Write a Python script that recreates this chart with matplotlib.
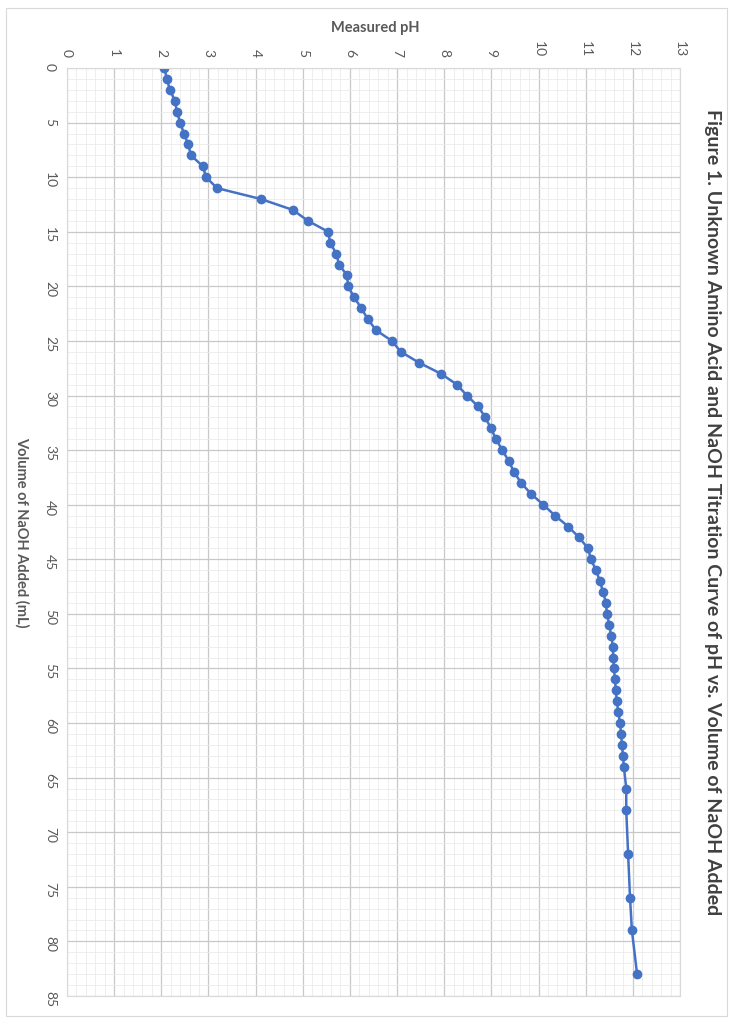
import matplotlib
matplotlib.use("Agg")
import matplotlib.pyplot as plt
from matplotlib.ticker import MultipleLocator

plt.rcParams['font.family'] = ['Lato', 'DejaVu Sans']

volume = list(range(0, 65)) + [66, 68, 72, 76, 79, 83]
ph = [2.06, 2.12, 2.18, 2.29, 2.33, 2.40, 2.48, 2.57, 2.63, 2.88, 2.95, 3.18, 4.11, 4.79, 5.11,
      5.54, 5.58, 5.71, 5.77, 5.94, 5.96, 6.09, 6.24, 6.38, 6.55, 6.89, 7.08, 7.47, 7.93, 8.27,
      8.48, 8.72, 8.87, 8.99, 9.10, 9.23, 9.37, 9.48, 9.63, 9.84, 10.10, 10.35, 10.63, 10.86, 11.05,
      11.11, 11.22, 11.30, 11.37, 11.43, 11.45, 11.50, 11.54, 11.58, 11.58, 11.60, 11.62, 11.64, 11.66, 11.69,
      11.73, 11.75, 11.77, 11.79, 11.81, 11.86, 11.86, 11.90, 11.94, 11.98, 12.09]

fig = plt.figure(figsize=(7.33, 10.24), dpi=100)
ax = fig.add_axes([67/733, 1-996/1024, 613/733, 928/1024])
ax.plot(ph, volume, color="#4472C4", lw=1.8, marker="o", ms=6)
ax.set_xlim(0, 13)
ax.set_ylim(85, 0)
ax.xaxis.set_major_locator(MultipleLocator(1))
ax.xaxis.set_minor_locator(MultipleLocator(0.2))
ax.yaxis.set_major_locator(MultipleLocator(5))
ax.yaxis.set_minor_locator(MultipleLocator(1))
ax.grid(which="major", color="#c8c8c8", lw=0.9)
ax.grid(which="minor", color="#ebebeb", lw=0.6)
ax.set_axisbelow(True)
ax.xaxis.tick_top()
ax.tick_params(which="both", length=0, labelsize=10, labelcolor="#595959", pad=8)
for t in ax.get_xticklabels():
    t.set_rotation(-90)
for t in ax.get_yticklabels():
    t.set_rotation(-90)
for s in ax.spines.values():
    s.set_color("#d9d9d9")
fig.text(375/733, 1-28/1024, "Measured pH", ha="center", va="center", fontsize=10.5, fontweight="bold", color="#595959")
fig.text(22/733, 1-532/1024, "Volume of NaOH Added (mL)", ha="center", va="center", rotation=-90,
         fontsize=10.5, fontweight="bold", color="#595959")
fig.text(712/733, 1-512/1024, "Figure 1. Unknown Amino Acid and NaOH Titration Curve of pH vs. Volume of NaOH Added",
         ha="center", va="center", rotation=-90, fontsize=14, fontweight="bold", color="#404040")
fig.add_artist(plt.Rectangle((6/733, 8/1024), 721/733, 1008/1024, transform=fig.transFigure,
                             fill=False, edgecolor="#d9d9d9", lw=0.8))
fig.savefig("out.png", dpi=100)
